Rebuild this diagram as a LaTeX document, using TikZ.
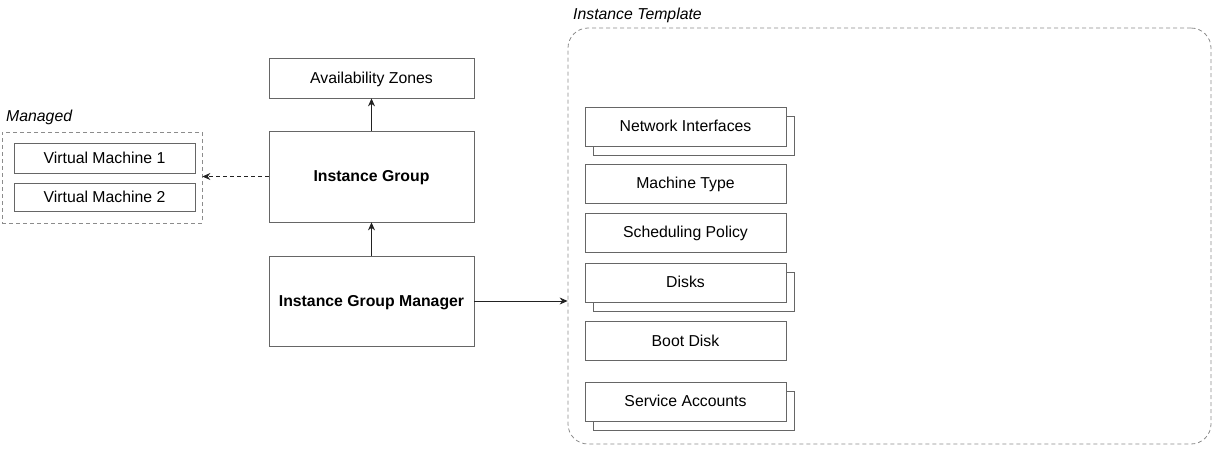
\documentclass[tikz,border=0pt]{standalone}
\usepackage{fontspec}
\setmainfont{Liberation Sans}
\usepackage{tikz}
\usetikzlibrary{positioning,arrows.meta,calc}
\definecolor{boxline}{HTML}{666666}
\definecolor{frameline}{HTML}{8C8C8C}
\definecolor{arrowline}{HTML}{222222}

\begin{document}
\begin{tikzpicture}[x=1pt,y=-1pt,font=\fontsize{15.8}{18}\selectfont,
  box/.style={draw=boxline,line width=0.8pt,fill=white,inner sep=0pt,text height=11pt,text depth=1pt},
  itembox/.style={box,minimum width=201pt,minimum height=39pt},
  mainbox/.style={box,minimum width=205pt},
  frame/.style={draw=frameline,line width=0.8pt,dash pattern=on 4pt off 3pt,inner sep=0pt},
  flow/.style={draw=arrowline,line width=0.8pt,-{Stealth[length=8pt,width=7pt]}},
  caption/.style={font=\fontsize{15.8}{18}\selectfont\itshape,anchor=west,inner sep=0pt}]
\useasboundingbox (0,0) rectangle (1212,456);

% managed machines
\node[frame,minimum width=200pt,minimum height=91pt] (managed) at (102,177.5) {};
\node[caption] (managedlbl) at (6,117) {Managed};
\node[box,minimum width=181pt,minimum height=30pt] (vm1) at (104.5,158) {Virtual Machine 1};
\node[box,minimum width=181pt,minimum height=28pt] (vm2) at (104.5,197) {Virtual Machine 2};

% group column
\node[mainbox,minimum height=40pt] (zones) at (371.5,78) {Availability Zones};
\node[mainbox,minimum height=91pt,font=\fontsize{15.8}{18}\selectfont\bfseries] (group) at (371.5,176.5) {Instance Group};
\node[mainbox,minimum height=90pt,font=\fontsize{15.8}{18}\selectfont\bfseries] (manager) at (371.5,301) {Instance Group Manager};

% instance template
\node[frame,rounded corners=20pt,minimum width=643pt,minimum height=416pt] (template) at (889.5,236) {};
\node[caption] (templatelbl) at (573,15) {Instance Template};

\node[itembox] (netback) at (693.5,135.5) {};
\node[itembox] (net) at (685.5,126.5) {Network Interfaces};
\node[itembox] (machine) at (685.5,183.5) {Machine Type};
\node[itembox] (sched) at (685.5,232.5) {Scheduling Policy};
\node[itembox] (diskback) at (693.5,291.5) {};
\node[itembox] (disks) at (685.5,282.5) {Disks};
\node[itembox] (boot) at (685.5,341) {Boot Disk};
\node[itembox] (acctback) at (693.5,410.5) {};
\node[itembox] (accts) at (685.5,401.5) {Service Accounts};

% connectors
\draw[flow] (group.north) -- (zones.south);
\draw[flow] (manager.north) -- (group.south);
\draw[flow,dash pattern=on 4pt off 3pt] (group.west) -- (group.west -| managed.east);
\draw[flow] (manager.east) -- (manager.east -| template.west);
\end{tikzpicture}
\end{document}
